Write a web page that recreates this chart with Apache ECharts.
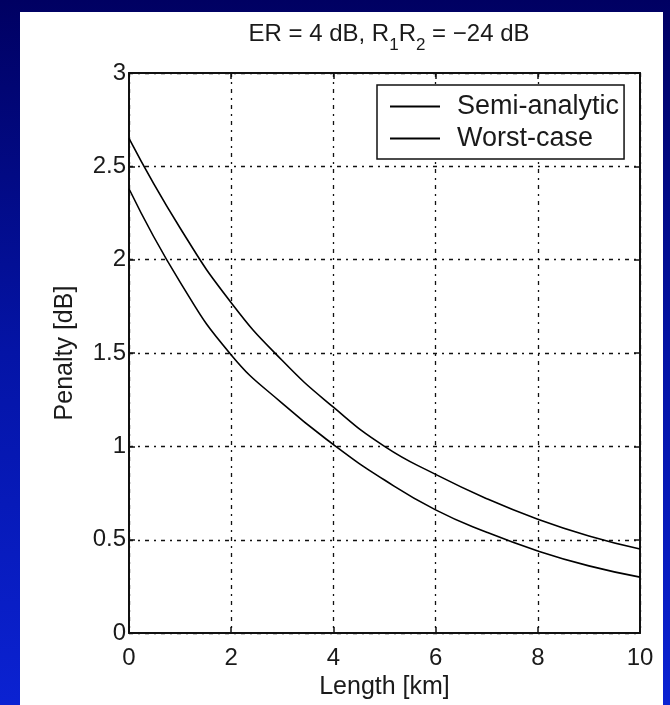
<!DOCTYPE html>
<html>
<head>
<meta charset="utf-8">
<script src="https://cdn.jsdelivr.net/npm/echarts@6/dist/echarts.min.js"></script>
<style>
  html, body { margin: 0; padding: 0; }
  body {
    width: 670px; height: 705px; position: relative; overflow: hidden;
    background: linear-gradient(to bottom, #000062 0%, #0414a6 50%, #0b22d2 100%);
  }
  #panel { position: absolute; left: 20px; top: 12px; width: 643px; height: 693px; background: #fff; }
  #chart { position: absolute; left: 0; top: 0; width: 670px; height: 705px; }
</style>
</head>
<body>
<div id="panel"></div>
<div id="chart"></div>
<script>
// values
const lengthKm = [0, 1, 2, 3, 4, 5, 6, 7, 8, 9, 10]
const semiAnalytic = [2.38, 1.88, 1.49, 1.23, 1.01, 0.82, 0.66, 0.54, 0.44, 0.36, 0.30]
const worstCase = [2.65, 2.17, 1.77, 1.46, 1.21, 1.00, 0.85, 0.72, 0.61, 0.52, 0.45]
const seriesNames = ['Semi-analytic', 'Worst-case']

const font = 'Liberation Sans, Arial, Helvetica, sans-serif'
const ink = '#1a1a1a'
const gridLine = { show: true, lineStyle: { color: '#111', width: 1.3, type: [4, 5, 2, 5] } }
const frame = { show: true, onZero: false, lineStyle: { color: '#111', width: 2 } }
const tick = { show: true, inside: true, length: 6, lineStyle: { color: '#111', width: 1.5 } }

const pairs = ys => lengthKm.map((x, i) => [x, ys[i]])

const chart = echarts.init(document.getElementById('chart'))
chart.setOption({
  backgroundColor: 'transparent',
  animation: false,
  title: {
    text: '{a|ER = 4 dB, R}{s|1}{a|R}{s|2}{a| = \u221224 dB}',
    left: 384, top: 10, textAlign: 'center',
    textStyle: {
      fontWeight: 'normal',
      rich: {
        a: { fontFamily: font, fontSize: 24, fontWeight: 'normal', color: ink },
        s: { fontFamily: font, fontSize: 17, fontWeight: 'normal', color: ink, padding: [22, 0, 0, 0] }
      }
    }
  },
  grid: { left: 129, right: 30, top: 73, bottom: 68 },
  legend: {
    data: seriesNames,
    orient: 'vertical',
    left: 377, top: 85,
    padding: [8, 5, 7, 13],
    itemGap: 5,
    itemWidth: 50, itemHeight: 2,
    icon: 'rect',
    borderColor: '#111', borderWidth: 1.5,
    backgroundColor: '#fff',
    itemStyle: { color: '#000' },
    textStyle: { fontFamily: font, fontSize: 27, lineHeight: 25, color: ink, padding: [0, 0, 0, 12] }
  },
  xAxis: [{
    type: 'value', min: 0, max: 10, interval: 2,
    name: 'Length [km]', nameLocation: 'middle', nameGap: 38,
    nameTextStyle: { fontFamily: font, fontSize: 25, color: ink },
    axisLine: frame, axisTick: tick, splitLine: gridLine,
    axisLabel: { fontFamily: font, fontSize: 24, color: ink, margin: 13 }
  }, {
    type: 'value', min: 0, max: 10, interval: 2, position: 'top',
    axisLine: frame, axisTick: tick, splitLine: { show: false }, axisLabel: { show: false }
  }],
  yAxis: [{
    type: 'value', min: 0, max: 3, interval: 0.5,
    name: 'Penalty [dB]', nameLocation: 'middle', nameGap: 51,
    nameTextStyle: { fontFamily: font, fontSize: 25, color: ink },
    axisLine: frame, axisTick: tick, splitLine: gridLine,
    axisLabel: { fontFamily: font, fontSize: 24, color: ink, margin: 3 }
  }, {
    type: 'value', min: 0, max: 3, interval: 0.5, position: 'right',
    axisLine: frame, axisTick: tick, splitLine: { show: false }, axisLabel: { show: false }
  }],
  series: [{
    name: seriesNames[0], type: 'line', data: pairs(semiAnalytic),
    smooth: true, symbol: 'none',
    lineStyle: { color: '#000', width: 1.6 }, itemStyle: { color: '#000' }
  }, {
    name: seriesNames[1], type: 'line', data: pairs(worstCase),
    smooth: true, symbol: 'none',
    lineStyle: { color: '#000', width: 1.6 }, itemStyle: { color: '#000' }
  }]
})
</script>
</body>
</html>
